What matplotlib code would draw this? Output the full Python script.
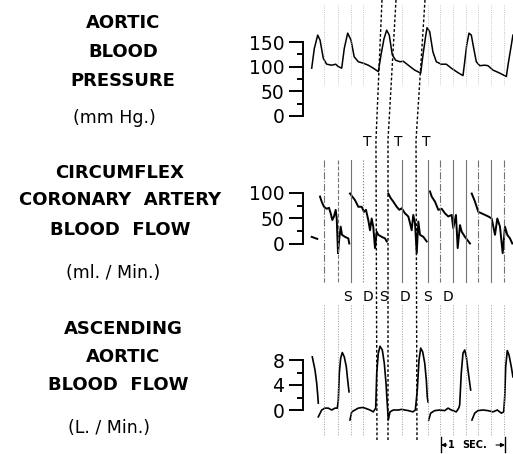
import numpy as np
import matplotlib
matplotlib.use("Agg")
import matplotlib.pyplot as plt

nan = np.nan

# ---- data (time in s, 1 s = scale bar) ----
pressure_t = [0.136, 0.177, 0.23, 0.266, 0.317, 0.37, 0.448, 0.511, 0.552, 0.605,
              0.645, 0.698, 0.75, 0.8, 0.864, 0.942, 1.02, 1.098, 1.177, 1.219,
              1.266, 1.308, 1.348, 1.395, 1.448, 1.516, 1.567, 1.645, 1.745, 1.839,
              1.875, 1.911, 1.938, 1.98, 2.03, 2.083, 2.161, 2.239, 2.317, 2.42,
              2.5, 2.527, 2.558, 2.594, 2.63, 2.672, 2.708, 2.761, 2.839, 2.89,
              2.969, 3.073, 3.177, 3.203, 3.255, 3.28]
pressure = [97, 137, 164, 154, 117, 105, 103, 105, 100, 97,
            137, 168, 154, 120, 110, 107, 103, 97, 90, 124,
            157, 174, 164, 124, 113, 110, 111, 103, 93, 87,
            124, 157, 179, 171, 130, 110, 105, 105, 97, 88,
            82, 110, 144, 168, 164, 134, 110, 102, 103, 102,
            93, 87, 80, 103, 144, 164]

coronary_t = [0.136, 0.223, nan,
              0.266, 0.292, 0.328, 0.37, 0.406, 0.433, 0.458, 0.484, 0.511, 0.527,
              0.547, 0.567, 0.589, 0.609, 0.656, 0.708, 0.723, nan,
              0.734, 0.77, 0.8125, 0.864, 0.917, 0.953, 0.984, 1.02, 1.047, 1.073,
              1.098, 1.125, 1.152, 1.177, 1.23, 1.281, 1.308, nan,
              1.333, 1.37, 1.411, 1.464, 1.505, 1.542, 1.594, 1.645, 1.672, 1.698,
              1.723, 1.75, 1.777, 1.802, 1.828, 1.88, 1.933, nan,
              1.984, 2.011, 2.0625, 2.114, 2.167, 2.219, 2.27, 2.323, 2.348, 2.39,
              2.417, 2.453, 2.48, 2.531, 2.609, nan,
              2.636, 2.6875, 2.739, 2.792, 2.844, 2.895, 2.948, 3.0, 3.036, 3.078,
              3.12, 3.156, 3.192, 3.234, 3.27]
coronary = [14, 10, nan,
            93, 83, 73, 69, 71, 60, 47, 54, 67, 50,
            -18, 11, 34, 18, 14, 11, 1, nan,
            99, 93, 86, 73, 73, 63, 67, 47, 27, 50,
            34, -8, 24, 18, 14, 11, 5, nan,
            99, 90, 83, 73, 67, 70, 60, 54, 41, 27,
            57, 41, -18, 44, 18, 14, 5, nan,
            103, 93, 83, 67, 69, 60, 54, 57, 31, 57,
            -8, 37, 24, 14, 1, nan,
            99, 83, 63, 60, 57, 54, 50, 18, 50, 34,
            -18, 34, 18, 11, 1]

aortic_t = [0.145, 0.1875, 0.214, 0.23, 0.239, nan,
            0.239, 0.292, 0.344, 0.395, 0.448, 0.5, 0.536, 0.552, 0.567, 0.589,
            0.614, 0.645, 0.677, 0.698, 0.719, nan,
            0.734, 0.761, 0.8125, 0.864, 0.927, 0.969, 1.047, 1.098, 1.136, 1.152,
            1.177, 1.203, 1.239, 1.27, 1.297, 1.3125, 1.333, 1.359, 1.411, 1.489,
            1.542, 1.594, 1.645, 1.719, 1.755, 1.786, 1.8125, 1.839, 1.87, 1.902,
            1.927, 1.942, 1.953, nan,
            1.964, 1.995, 2.058, 2.136, 2.214, 2.266, 2.317, 2.395, 2.433, 2.448,
            2.473, 2.5, 2.527, 2.552, 2.578, 2.605, 2.62, nan,
            2.64, 2.683, 2.734, 2.8125, 2.89, 2.969, 3.036, 3.098, 3.136, 3.152,
            3.167, 3.192, 3.219, 3.255, 3.28]
aortic = [8.5, 6.4, 4.3, 2.4, 1.1, nan,
          -1.1, 0, 0.3, 0.3, 0, 0.3, 0.3, 1.6, 5.9, 8.3,
          9.2, 8.5, 6.9, 4.8, 2.9, nan,
          -1.6, -0.3, 0, 0.3, 0.4, 0.3, 0, -0.3, 0.3, 5.9,
          9.1, 10.2, 9.6, 7.5, 4.3, 1.6, -1.6, -0.3, 0, 0,
          0.1, 0, -0.1, -0.3, 0, 3.2, 8.0, 9.9, 9.3, 7.5,
          4.8, 2.1, 1.3, nan,
          -1.6, -0.5, -0.1, 0, -0.1, 0.3, 0, -0.3, 0.3, 0.8,
          5.9, 9.1, 9.6, 8.5, 6.4, 4.3, 3.2, nan,
          -1.6, -0.5, -0.1, 0, -0.1, -0.3, 0, -0.5, -0.3, 2.1,
          6.9, 9.5, 8.8, 6.9, 5.3]

# timing marks (s)
event_t = [0.328, 0.547, 0.75, 0.9375, 1.547, 1.953, 2.14, 2.344, 2.547, 2.734, 2.9375, 3.14]
# slanted dashed lines: time at top edge, at bend, at bottom
slant_top = [1.234, 1.453, 1.906]
slant_bend = [1.14, 1.328, 1.766]
slant_bottom = [1.156, 1.328, 1.781]
t_labels_t = [1.0, 1.484, 1.922]
sd_labels = ["S", "D", "S", "D", "S", "D"]
sd_t = [0.6875, 1.016, 1.25, 1.594, 1.953, 2.266]
scale_start = 2.156
scale_len = 1.0

W, H = 513, 454
T_MAX = 210 / 64.0

fig = plt.figure(figsize=(W / 100, H / 100), dpi=100)


def px_axes(top, bottom, left=303, right=513):
    return fig.add_axes([left / W, 1 - bottom / H, (right - left) / W, (bottom - top) / H])


def style_panel(ax, ylim, major, minor):
    ax.set_xlim(0, T_MAX)
    ax.set_ylim(*ylim)
    for s in ["top", "right", "bottom"]:
        ax.spines[s].set_visible(False)
    ax.spines["left"].set_bounds(major[0], major[-1])
    ax.spines["left"].set_linewidth(1.4)
    ax.set_xticks([])
    ax.set_yticks(major)
    ax.set_yticks(minor, minor=True)
    ax.tick_params(axis="y", which="major", length=10, width=1.4, pad=3.5, labelsize=13.5)
    ax.tick_params(axis="y", which="minor", length=4.5, width=1.4)
    ax.patch.set_alpha(0)


ax1 = px_axes(0, 140)
style_panel(ax1, (-48.7, 235.2), [0, 50, 100, 150], [25, 75, 125])
ax1.plot(pressure_t, pressure, color="black", lw=1.1)

ax2 = px_axes(145, 300)
style_panel(ax2, (-109.8, 194.1), [0, 50, 100], [25, 75])
ax2.plot(coronary_t, coronary, color="black", lw=1.4)

ax3 = px_axes(300, 454)
style_panel(ax3, (-7.04, 17.6), [0, 4, 8], [2, 6])
ax3.plot(aortic_t, aortic, color="black", lw=1.2)

# overlay in pixel rows for the timing marks
ov = px_axes(0, 454)
ov.set_xlim(0, T_MAX)
ov.set_ylim(454, 0)
ov.axis("off")

styles = ["-.", "--", "-", ":", "-", "-", "-.", "-", "-", "-.", "-", "-."]
for t, ls in zip(event_t, styles):
    ov.plot([t, t], [160, 282], color="0.45", lw=0.8, ls=ls)
    ov.plot([t, t], [305, 435], color="0.6", lw=0.7, ls=":")
    ov.plot([t, t], [5, 85], color="0.7", lw=0.6, ls=":")

for a, b, c in zip(slant_top, slant_bend, slant_bottom):
    ov.plot([a, b, c], [0, 140, 440], color="black", lw=1.0, ls=(0, (2, 1.5)))

for t in t_labels_t:
    ov.text(t, 142, "T", ha="center", va="center", fontsize=10)
for lab, t in zip(sd_labels, sd_t):
    ov.text(t, 297, lab, ha="center", va="center", fontsize=10)

# 1 sec scale bar
x0, x1 = scale_start, scale_start + scale_len
ov.plot([x0, x0], [437, 452], color="black", lw=1.0)
ov.plot([x1, x1], [437, 452], color="black", lw=1.0)
ov.annotate("", xy=(x0, 445), xytext=(x0 + 0.09, 445),
            arrowprops=dict(arrowstyle="-|>", color="black", lw=0.8, mutation_scale=6,
                            shrinkA=0, shrinkB=0))
ov.annotate("", xy=(x1, 445), xytext=(x1 - 0.14, 445),
            arrowprops=dict(arrowstyle="-|>", color="black", lw=0.8, mutation_scale=6,
                            shrinkA=0, shrinkB=0))
ov.text(x0 + 0.11, 445, "1", ha="left", va="center", fontsize=7, fontweight="bold")
ov.text((x0 + x1) / 2 + 0.03, 445, "SEC.", ha="center", va="center", fontsize=7, fontweight="bold")

# left-hand titles
titles = [
    ("AORTIC", 123, 23), ("BLOOD", 123, 52), ("PRESSURE", 123, 81),
    ("CIRCUMFLEX", 120, 173), ("CORONARY  ARTERY", 120, 200), ("BLOOD  FLOW", 120, 230),
    ("ASCENDING", 123, 329), ("AORTIC", 123, 357), ("BLOOD  FLOW", 118, 385),
]
units = [("(mm Hg.)", 114, 118), ("(ml. / Min.)", 113, 273), ("(L. / Min.)", 109, 428)]
for s, x, y in titles:
    fig.text(x / W, 1 - y / H, s, ha="center", va="center", fontsize=13, fontweight="bold")
for s, x, y in units:
    fig.text(x / W, 1 - y / H, s, ha="center", va="center", fontsize=12.5)

fig.savefig("out.png", dpi=100)
